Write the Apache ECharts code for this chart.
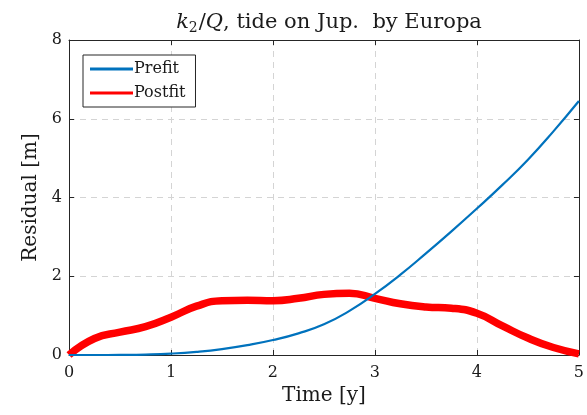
<!DOCTYPE html>
<html>
<head>
<meta charset="utf-8">
<script src="https://cdn.jsdelivr.net/npm/echarts@6/dist/echarts.min.js"></script>
<style>html,body{margin:0;padding:0;background:#fff;}#c{width:587px;height:415px;}</style>
</head>
<body>
<div id="c"></div>
<script>
var times = [0,0.25,0.5,0.75,1,1.25,1.5,1.75,2,2.25,2.5,2.75,3,3.25,3.5,3.75,4,4.25,4.5,4.75,5];
var prefit = [0,0.0,0.003,0.012,0.035,0.08,0.15,0.25,0.38,0.55,0.78,1.12,1.55,2.04,2.58,3.14,3.72,4.32,4.96,5.68,6.45];
var postfit = [0,0.42,0.58,0.72,0.96,1.24,1.38,1.39,1.38,1.44,1.54,1.57,1.44,1.3,1.22,1.19,1.06,0.74,0.43,0.19,0.03];
var xTicks = [0,1,2,3,4,5];
var yTicks = [0,2,4,6,8];
var seriesNames = ['Prefit','Postfit'];

var FONT = '"DejaVu Serif", "Liberation Serif", serif';
var AX = '#262626';
var TXT = '#1a1a1a';
function pairs(xs, ys){ return xs.map(function(x,i){return [x, ys[i]];}); }

var chart = echarts.init(document.getElementById('c'));
chart.setOption({
  animation: false,
  backgroundColor: '#fff',
  title: {
    text: '{i|k}{s|2}{n|/}{i|Q}{n|, tide on Jup.  by Europa}',
    left: 324, top: 6, textAlign: 'center',
    textStyle: {
      fontWeight: 'normal',
      rich: {
        i: {fontFamily: FONT, fontStyle: 'italic', fontWeight: 'normal', fontSize: 21, color: TXT},
        s: {fontFamily: FONT, fontWeight: 'normal', fontSize: 14, color: TXT, verticalAlign: 'bottom', padding:[10,1,0,0]},
        n: {fontFamily: FONT, fontWeight: 'normal', fontSize: 21, color: TXT}
      }
    }
  },
  legend: {
    data: [
      {name: seriesNames[0], itemStyle: {color: '#0072BD'}},
      {name: seriesNames[1], itemStyle: {color: '#FF0000'}}
    ],
    orient: 'vertical', left: 83, top: 55,
    icon: 'rect', itemWidth: 43, itemHeight: 3, itemGap: 8,
    backgroundColor: '#fff', borderColor: AX, borderWidth: 1,
    padding: [6, 10, 6, 7],
    textStyle: {fontFamily: FONT, fontSize: 16, color: TXT, padding: [0,0,0,-4]}
  },
  grid: {left: 69, right: 7, top: 40, bottom: 60},
  xAxis: [{
    type: 'value', min: 0, max: 5, interval: 1,
    name: 'Time [y]', nameLocation: 'middle', nameGap: 30,
    nameTextStyle: {fontFamily: FONT, fontSize: 20, color: TXT},
    axisLine: {show: true, onZero: false, lineStyle: {color: AX}},
    axisTick: {show: true, inside: true, length: 5, lineStyle: {color: AX}},
    axisLabel: {fontFamily: FONT, fontSize: 16, color: TXT, margin: 10},
    splitLine: {show: true, lineStyle: {color: '#d4d4d4', type: [6,5]}}
  },{
    type: 'value', min: 0, max: 5, interval: 1, position: 'top',
    axisLine: {show: true, onZero: false, lineStyle: {color: AX}},
    axisTick: {show: true, inside: true, length: 5, lineStyle: {color: AX}},
    axisLabel: {show: false}, splitLine: {show: false}
  }],
  yAxis: [{
    type: 'value', min: 0, max: 8, interval: 2,
    name: 'Residual [m]', nameLocation: 'middle', nameGap: 28,
    nameTextStyle: {fontFamily: FONT, fontSize: 20, color: TXT},
    axisLine: {show: true, onZero: false, lineStyle: {color: AX}},
    axisTick: {show: true, inside: true, length: 5, lineStyle: {color: AX}},
    axisLabel: {fontFamily: FONT, fontSize: 16, color: TXT, margin: 7},
    splitLine: {show: true, lineStyle: {color: '#d4d4d4', type: [6,5]}}
  },{
    type: 'value', min: 0, max: 8, interval: 2, position: 'right',
    axisLine: {show: true, onZero: false, lineStyle: {color: AX}},
    axisTick: {show: true, inside: true, length: 5, lineStyle: {color: AX}},
    axisLabel: {show: false}, splitLine: {show: false}
  }],
  series: [{
    name: seriesNames[1], type: 'line', data: pairs(times, postfit),
    smooth: true, showSymbol: false, z: 2,
    lineStyle: {color: '#FF0000', width: 7.5}
  },{
    name: seriesNames[0], type: 'line', data: pairs(times, prefit),
    smooth: true, showSymbol: false, z: 3,
    lineStyle: {color: '#0072BD', width: 2.2}
  }]
});
</script>
</body>
</html>
